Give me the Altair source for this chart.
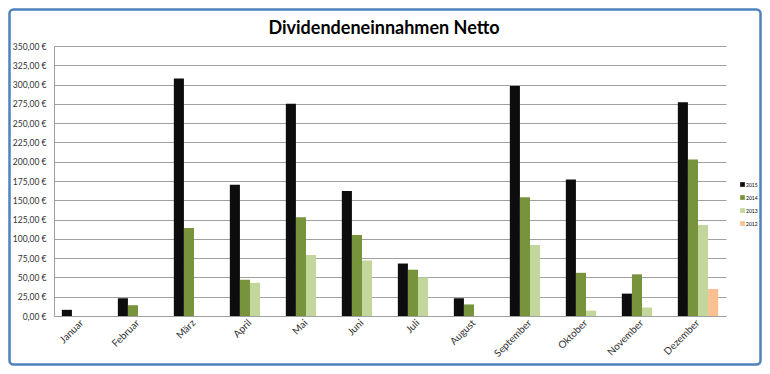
import altair as alt
import pandas as pd

months = ["Januar", "Februar", "März", "April", "Mai", "Juni", "Juli",
          "August", "September", "Oktober", "November", "Dezember"]
years = ["2015", "2014", "2013", "2012"]
v2015 = [8, 23, 308, 170, 275, 162, 68, 23, 298, 177, 29, 277]
v2014 = [None, 14, 114, 47, 128, 105, 60, 15, 154, 56, 54, 203]
v2013 = [None, None, None, 43, 79, 72, 50, None, 92, 7, 11, 118]
v2012 = [None, None, None, None, None, None, None, None, None, None, None, 35]
colors = ["#0d0d0d", "#77933c", "#c3d69b", "#fac090"]
title_text = "Dividendeneinnahmen Netto"

rows = []
for y, vals in zip(years, [v2015, v2014, v2013, v2012]):
    for m, v in zip(months, vals):
        if v is not None:
            rows.append({"Monat": m, "Jahr": y, "Wert": v})
df = pd.DataFrame(rows)

W, H = 672, 270
PL, PT, PR, PB = 46, 38, 36, 50

bars = alt.Chart(df).mark_bar().encode(
    x=alt.X("Monat:N", sort=months,
            scale=alt.Scale(domain=months, paddingInner=0.28, paddingOuter=0.14),
            axis=alt.Axis(title=None, labelAngle=-45, labelAlign="right",
                          labelBaseline="middle", labelPadding=5, ticks=False,
                          labelFontSize=10, labelColor="#333333",
                          labelFont="Lato", domainColor="#a0a0a0")),
    xOffset=alt.XOffset("Jahr:N", scale=alt.Scale(domain=years, padding=0)),
    y=alt.Y("Wert:Q", scale=alt.Scale(domain=[0, 350]),
            axis=alt.Axis(title=None, values=list(range(0, 351, 25)),
                          labelExpr="replace(format(datum.value, '.2f'), '.', ',') + ' €'",
                          ticks=False, labelPadding=8, labelFontSize=8.5,
                          labelFont="Lato", labelColor="#333333",
                          gridColor="#a0a0a0", gridWidth=1.2,
                          domainColor="#a0a0a0")),
    color=alt.Color("Jahr:N", scale=alt.Scale(domain=years, range=colors),
                    legend=alt.Legend(title=None, orient="none", legendX=686, legendY=136,
                                      symbolType="square", symbolSize=22,
                                      symbolStrokeWidth=0, labelFontSize=5,
                                      labelFont="Lato", rowPadding=7,
                                      labelOffset=1)),
)

frame = alt.Chart(pd.DataFrame({"a": [0]})).mark_rect(
    fill=None, stroke="#4f81bd", strokeWidth=2.5, cornerRadius=4
).encode(
    x=alt.value(-PL + 1.5), x2=alt.value(W + PR - 1.5),
    y=alt.value(-PT + 1.5), y2=alt.value(H + PB - 1.5),
)

title = alt.Chart(pd.DataFrame({"t": [title_text]})).mark_text(
    fontSize=18, font="Lato", fontWeight="bold", color="#000000",
    align="center", baseline="alphabetic"
).encode(
    text="t:N", x=alt.value(W / 2 - 6), y=alt.value(-12),
)

chart = alt.layer(bars, frame, title).properties(
    width=W, height=H,
    padding={"left": PL, "top": PT, "right": PR, "bottom": PB},
    autosize=alt.AutoSizeParams(type="none"),
    background="white",
).configure_view(stroke=None)

chart.save("out.html", embed_options={"renderer": "svg", "actions": False})
